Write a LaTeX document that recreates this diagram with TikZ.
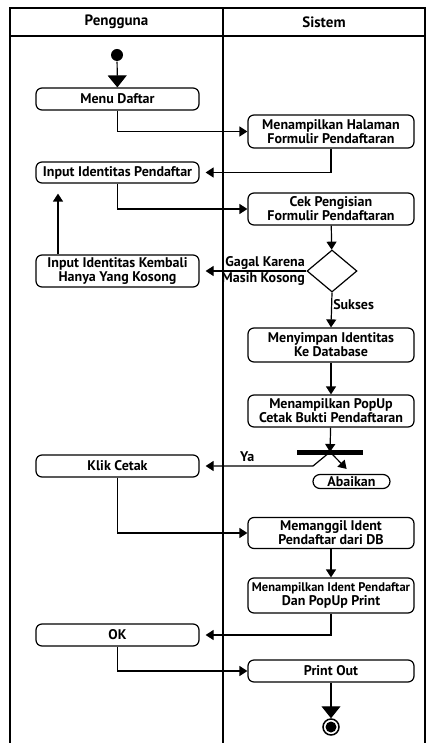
\documentclass[tikz,border=0pt]{standalone}
\usepackage{fontspec}
\setsansfont{PT Sans}
\usetikzlibrary{arrows.meta,shapes.geometric}

\begin{document}
\begin{tikzpicture}[x=1pt,y=-1pt,line width=1.2pt,
  font=\sffamily\bfseries\fontsize{14}{12}\selectfont,
  aksi/.style={draw, rounded corners=6pt, minimum height=22pt, inner sep=1pt, align=center},
  kiri/.style={aksi, minimum width=163pt},
  kanan/.style={aksi, minimum width=166pt},
  panah/.style={-{Triangle[length=8pt,width=10pt]}},
  panahbesar/.style={-{Triangle[length=12pt,width=19pt]}}]
                    \useasboundingbox (0,0) rectangle (427,743);

                    % Kolom
                    \draw (10,743) -- (10,8) -- (425,8) -- (425,743);
                    \draw (10,36) -- (425,36);
                    \draw (223,8) -- (223,743);
                    \node [font=\sffamily\bfseries\fontsize{15}{15}\selectfont] (pengguna) at (116.5,22) {Pengguna};
                    \node [font=\sffamily\bfseries\fontsize{15}{15}\selectfont] (sistem) at (324,22) {Sistem};

                    % Aktivitas
                    \node [circle, fill, inner sep=0, minimum size=12pt] (mulai) at (117,55) {};
                    \node [kiri] (menu) at (117.5,99) {Menu Daftar};
                    \node [kanan, minimum height=33pt] (halaman) at (331,131.5) {Menampilkan Halaman\\Formulir Pendaftaran};
                    \node [kiri, minimum height=21pt] (input) at (117.5,172.5) {Input Identitas Pendaftar};
                    \node [kanan, minimum height=32pt] (cek) at (331,209) {Cek Pengisian\\Formulir Pendaftaran};
                    \node [diamond, draw, aspect=1.2, minimum width=50pt, minimum height=42pt, inner sep=0] (keputusan) at (332,271) {};
                    \node [kiri, minimum height=32pt] (kembali) at (117.5,271) {Input Identitas Kembali\\Hanya Yang Kosong};
                    \node [kanan, minimum height=34pt] (simpan) at (331,345) {Menyimpan Identitas\\Ke Database};
                    \node [kanan, minimum height=32pt] (popup) at (331,411) {Menampilkan PopUp\\Cetak Bukti Pendaftaran};
                    \node [fill, minimum width=66pt, minimum height=5pt, inner sep=0] (cabang) at (330,452) {};
                    \node [kiri] (klik) at (117.5,466) {Klik Cetak};
                    \node [aksi, rounded corners=7pt, minimum width=77pt, minimum height=14pt, inner sep=0] (abaikan) at (351.5,481.5) {Abaikan};
                    \node [kanan, minimum height=31pt] (panggil) at (331,533) {Memanggil Ident\\Pendaftar dari DB};
                    \node [kanan, minimum height=35pt] (tampil) at (331,595.5) {{\fontsize{12.5}{12}\selectfont Menampilkan Ident Pendaftar}\\Dan PopUp Print};
                    \node [kiri] (ok) at (117.5,635) {OK};
                    \node [kanan] (cetak) at (331,671) {Print Out};
                    \node [circle, draw, line width=1.5pt, inner sep=0, minimum size=16pt,
                           path picture={\fill (path picture bounding box.center) circle (5.5pt);}] (selesai) at (331,727) {};

                    % Panah
                    \draw [panahbesar] (mulai) -- (menu);
                    \draw [panah] (menu.south) |- (halaman.west);
                    \draw [panah, shorten >=6pt] (halaman.south) |- (input.east);
                    \draw [panah] (input.south) |- (cek.west);
                    \draw [panah] (cek) -- (keputusan);
                    \draw [panah, shorten >=6pt] (keputusan.west) -- (kembali.east)
                        node [pos=0, anchor=south east, inner sep=1pt] {Gagal Karena}
                        node [pos=0, anchor=north east, inner sep=1pt] {Masih Kosong};
                    \draw [panah, shorten >=10pt] ([xshift=-59.5pt]kembali.north) -- ([xshift=-59.5pt]input.south);
                    \draw [panah] (keputusan.south) -- (simpan.north)
                        node [pos=0.35, anchor=west, inner sep=1pt] {Sukses};
                    \draw [panah] (simpan) -- (popup);
                    \draw [panah] (popup) -- (cabang.center);
                    \coordinate (belok) at (313,466);
                    \draw [panah, shorten >=6pt] (cabang.center) -- (belok) -- (klik.east)
                        node [pos=0.58, above] {Ya};
                    \draw [panah, shorten >=7pt] (cabang.center) -- (abaikan.north);
                    \draw [panah] (klik.south) |- (panggil.west);
                    \draw [panah] (panggil) -- (tampil);
                    \draw [panah, shorten >=6pt] (tampil.south) |- (ok.east);
                    \draw [panah] (ok.south) |- (cetak.west);
                    \draw [panahbesar] (cetak) -- (selesai);
\end{tikzpicture}
\end{document}
